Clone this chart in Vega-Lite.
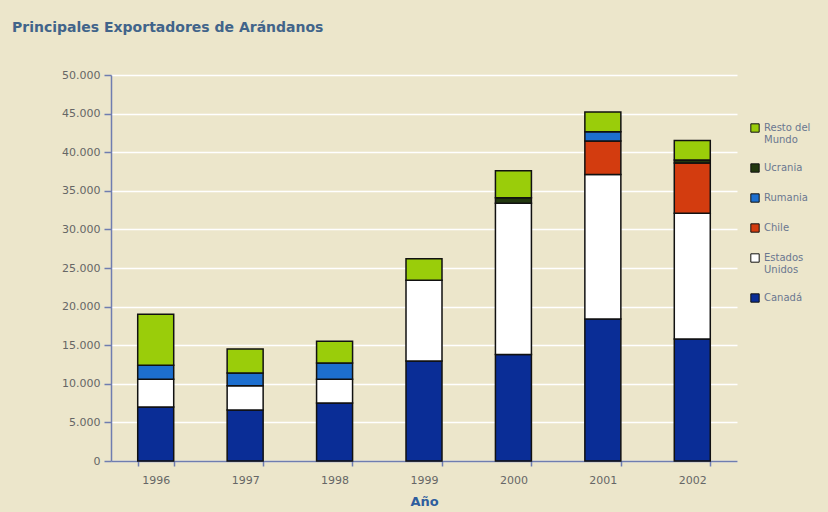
{
  "$schema": "https://vega.github.io/schema/vega-lite/v6.json",
  "width": 626,
  "height": 386,
  "autosize": {"type": "none"},
  "padding": {"left": 111, "top": 75, "right": 91, "bottom": 51},
  "background": "#ece6cb",
  "config": {
    "view": {"stroke": null, "fill": "#ece6cb"},
    "locale": {"number": {"decimal": ",", "thousands": ".", "grouping": [3], "currency": ["", " €"]}},
    "font": "DejaVu Sans"
  },
  "title": {
    "text": "Principales Exportadores de Arándanos",
    "anchor": "start",
    "frame": "group",
    "dx": -99,
    "offset": 34,
    "fontSize": 14,
    "fontWeight": "bold",
    "color": "#41648a",
    "font": "DejaVu Sans"
  },
  "data": {
    "values": [
      {"year": "1996", "country": "Canadá", "value": 7000},
      {"year": "1996", "country": "Estados Unidos", "value": 3600},
      {"year": "1996", "country": "Rumania", "value": 1800},
      {"year": "1996", "country": "Resto del Mundo", "value": 6600},
      {"year": "1997", "country": "Canadá", "value": 6600},
      {"year": "1997", "country": "Estados Unidos", "value": 3150},
      {"year": "1997", "country": "Rumania", "value": 1650},
      {"year": "1997", "country": "Resto del Mundo", "value": 3100},
      {"year": "1998", "country": "Canadá", "value": 7500},
      {"year": "1998", "country": "Estados Unidos", "value": 3100},
      {"year": "1998", "country": "Rumania", "value": 2100},
      {"year": "1998", "country": "Resto del Mundo", "value": 2800},
      {"year": "1999", "country": "Canadá", "value": 12950},
      {"year": "1999", "country": "Estados Unidos", "value": 10450},
      {"year": "1999", "country": "Resto del Mundo", "value": 2800},
      {"year": "2000", "country": "Canadá", "value": 13800},
      {"year": "2000", "country": "Estados Unidos", "value": 19600},
      {"year": "2000", "country": "Ucrania", "value": 700},
      {"year": "2000", "country": "Resto del Mundo", "value": 3500},
      {"year": "2001", "country": "Canadá", "value": 18400},
      {"year": "2001", "country": "Estados Unidos", "value": 18700},
      {"year": "2001", "country": "Chile", "value": 4350},
      {"year": "2001", "country": "Rumania", "value": 1200},
      {"year": "2001", "country": "Resto del Mundo", "value": 2550},
      {"year": "2002", "country": "Canadá", "value": 15800},
      {"year": "2002", "country": "Estados Unidos", "value": 16300},
      {"year": "2002", "country": "Chile", "value": 6500},
      {"year": "2002", "country": "Ucrania", "value": 400},
      {"year": "2002", "country": "Resto del Mundo", "value": 2500}
    ]
  },
  "transform": [
    {"calculate": "indexof(['Canadá', 'Estados Unidos', 'Chile', 'Rumania', 'Ucrania', 'Resto del Mundo'], datum.country)", "as": "stackRank"}
  ],
  "mark": {"type": "bar", "stroke": "#111111", "strokeWidth": 1.5, "width": 36},
  "encoding": {
    "x": {
      "field": "year",
      "type": "ordinal",
      "title": "Año",
      "scale": {"paddingInner": 0.6, "paddingOuter": 0.3},
      "axis": {
        "labelAngle": 0,
        "tickBand": "extent",
        "domainColor": "#6f7db0",
        "domainWidth": 1.5,
        "tickColor": "#6f7db0",
        "tickWidth": 1.5,
        "tickSize": 5,
        "labelFontSize": 11,
        "labelColor": "#666666",
        "labelPadding": 8,
        "titleFontSize": 13,
        "titleFontWeight": "bold",
        "titleColor": "#2f5e9e",
        "titlePadding": 10
      }
    },
    "y": {
      "field": "value",
      "type": "quantitative",
      "stack": "zero",
      "title": null,
      "scale": {"domain": [0, 50000]},
      "axis": {
        "values": [0, 5000, 10000, 15000, 20000, 25000, 30000, 35000, 40000, 45000, 50000],
        "format": ",d",
        "gridColor": "#ffffff",
        "gridWidth": 1.5,
        "gridOpacity": 1,
        "domainColor": "#6f7db0",
        "domainWidth": 1.5,
        "tickColor": "#6f7db0",
        "tickWidth": 1.5,
        "tickSize": 7,
        "labelFontSize": 11,
        "labelColor": "#666666",
        "labelPadding": 4
      }
    },
    "color": {
      "field": "country",
      "type": "nominal",
      "title": null,
      "scale": {
        "domain": ["Resto del Mundo", "Ucrania", "Rumania", "Chile", "Estados Unidos", "Canadá"],
        "range": ["#9acd0a", "#22380f", "#1d6fcf", "#d33c0f", "#ffffff", "#0a2d96"]
      },
      "legend": {
        "orient": "none",
        "legendX": 639,
        "legendY": 48,
        "symbolType": "square",
        "symbolSize": 70,
        "symbolStrokeColor": "#111111",
        "symbolStrokeWidth": 1,
        "symbolOpacity": 1,
        "labelFontSize": 10,
        "labelColor": "#6a7790",
        "rowPadding": 16,
        "labelOffset": 4,
        "labelExpr": "datum.label == 'Resto del Mundo' ? ['Resto del', 'Mundo'] : datum.label == 'Estados Unidos' ? ['Estados', 'Unidos'] : datum.label"
      }
    },
    "order": {"field": "stackRank", "type": "quantitative", "sort": "ascending"}
  }
}
